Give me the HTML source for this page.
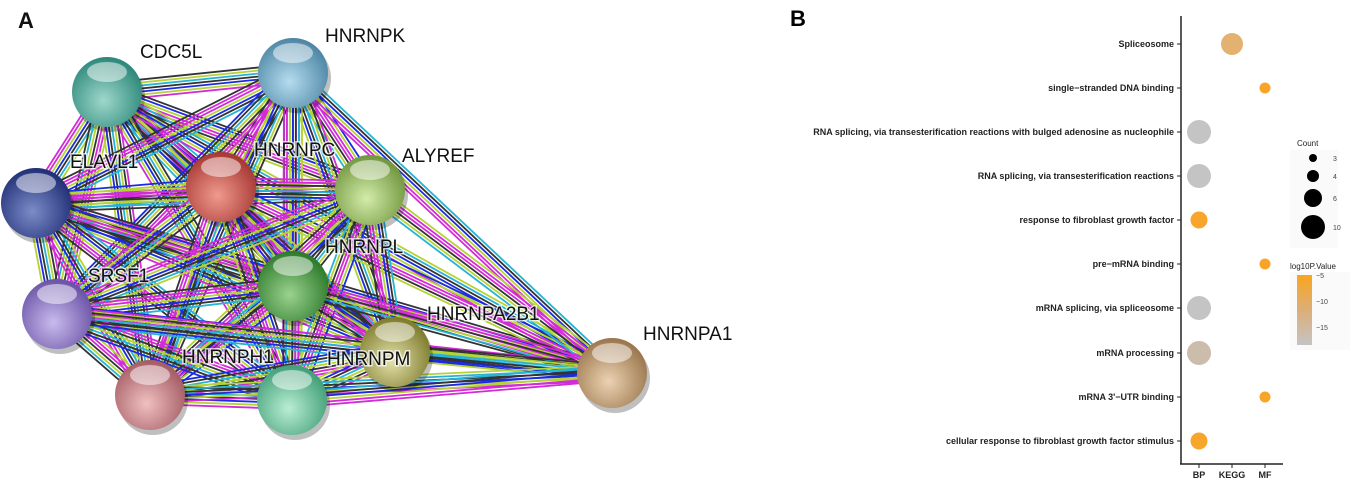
<!DOCTYPE html>
<html><head><meta charset="utf-8"><style>
body{margin:0;background:#fff;width:1357px;height:480px;overflow:hidden;font-family:"Liberation Sans",Arial,sans-serif}
svg{position:absolute;left:0;top:0}
.lb text{paint-order:stroke;stroke:#fff;stroke-width:3px;stroke-opacity:0.7}
</style></head><body>
<svg id="s" width="1357" height="480" viewBox="0 0 1357 480" xmlns="http://www.w3.org/2000/svg">
<defs>
<linearGradient id="cb" x1="0" y1="0" x2="0" y2="1"><stop offset="0" stop-color="#f9a51f"/><stop offset="0.5" stop-color="#dcae78"/><stop offset="1" stop-color="#c4c4c4"/></linearGradient>
</defs>
<g id="edges"></g>
<g id="nodes"></g>
<g font-size="19" fill="#111" class="lb">
<text x="18" y="28" font-size="22" font-weight="bold">A</text>
<text x="140" y="58">CDC5L</text>
<text x="325" y="42">HNRNPK</text>
<text x="70" y="168">ELAVL1</text>
<text x="254" y="156">HNRNPC</text>
<text x="402" y="162">ALYREF</text>
<text x="325" y="253">HNRNPL</text>
<text x="88" y="282">SRSF1</text>
<text x="427" y="320">HNRNPA2B1</text>
<text x="182" y="363">HNRNPH1</text>
<text x="327" y="365">HNRNPM</text>
<text x="643" y="340">HNRNPA1</text>
</g>
<!-- Panel B -->
<text x="790" y="26" font-size="22" font-weight="bold">B</text>
<line x1="1181" y1="16" x2="1181" y2="464" stroke="#222" stroke-width="1.5"/>
<line x1="1180" y1="464" x2="1283" y2="464" stroke="#222" stroke-width="1.5"/>
<g stroke="#222" stroke-width="1">
<line x1="1177" y1="44" x2="1181" y2="44"/><line x1="1177" y1="88" x2="1181" y2="88"/><line x1="1177" y1="132" x2="1181" y2="132"/><line x1="1177" y1="176" x2="1181" y2="176"/><line x1="1177" y1="220" x2="1181" y2="220"/><line x1="1177" y1="264" x2="1181" y2="264"/><line x1="1177" y1="308" x2="1181" y2="308"/><line x1="1177" y1="353" x2="1181" y2="353"/><line x1="1177" y1="397" x2="1181" y2="397"/><line x1="1177" y1="441" x2="1181" y2="441"/>
<line x1="1199" y1="464" x2="1199" y2="468"/><line x1="1232" y1="464" x2="1232" y2="468"/><line x1="1265" y1="464" x2="1265" y2="468"/>
</g>
<g font-size="9" font-weight="bold" fill="#222" text-anchor="end">
<text x="1174" y="47">Spliceosome</text>
<text x="1174" y="91">single−stranded DNA binding</text>
<text x="1174" y="135">RNA splicing, via transesterification reactions with bulged adenosine as nucleophile</text>
<text x="1174" y="179">RNA splicing, via transesterification reactions</text>
<text x="1174" y="223">response to fibroblast growth factor</text>
<text x="1174" y="267">pre−mRNA binding</text>
<text x="1174" y="311">mRNA splicing, via spliceosome</text>
<text x="1174" y="356">mRNA processing</text>
<text x="1174" y="400">mRNA 3'−UTR binding</text>
<text x="1174" y="444">cellular response to fibroblast growth factor stimulus</text>
</g>
<g font-size="9" font-weight="bold" fill="#222" text-anchor="middle">
<text x="1199" y="478">BP</text><text x="1232" y="478">KEGG</text><text x="1265" y="478">MF</text>
</g>
<circle cx="1232" cy="44" r="11" fill="#e3b271"/>
<circle cx="1265" cy="88" r="5.5" fill="#f8a428"/>
<circle cx="1199" cy="132" r="12" fill="#c4c4c4"/>
<circle cx="1199" cy="176" r="12" fill="#c4c4c4"/>
<circle cx="1199" cy="220" r="8.5" fill="#f8a52b"/>
<circle cx="1265" cy="264" r="5.5" fill="#f8a428"/>
<circle cx="1199" cy="308" r="12" fill="#c4c4c4"/>
<circle cx="1199" cy="353" r="12" fill="#ccbcab"/>
<circle cx="1265" cy="397" r="5.5" fill="#f8a428"/>
<circle cx="1199" cy="441" r="8.5" fill="#f8a52b"/>
<rect x="1290" y="150" width="48" height="98" fill="#fafafa"/>
<text x="1297" y="146" font-size="8" fill="#222">Count</text>
<circle cx="1313" cy="158" r="4" fill="#000"/><text x="1333" y="161" font-size="7" fill="#444">3</text>
<circle cx="1313" cy="176" r="6" fill="#000"/><text x="1333" y="179" font-size="7" fill="#444">4</text>
<circle cx="1313" cy="198" r="9" fill="#000"/><text x="1333" y="201" font-size="7" fill="#444">6</text>
<circle cx="1313" cy="227" r="12" fill="#000"/><text x="1333" y="230" font-size="7" fill="#444">10</text>
<rect x="1290" y="272" width="60" height="78" fill="#fafafa"/>
<text x="1290" y="269" font-size="8" fill="#222">log10P.Value</text>
<rect x="1297" y="275" width="15" height="70" fill="url(#cb)"/>
<text x="1316" y="278" font-size="7" fill="#444">−5</text>
<text x="1316" y="304" font-size="7" fill="#444">−10</text>
<text x="1316" y="330" font-size="7" fill="#444">−15</text>
</svg>
<script>
var N={CDC5L:[107,92,"#2f8a7c","#9ed8cb"],HNRNPK:[293,73,"#4f88a6","#b6dcef"],ELAVL1:[36,203,"#233178","#7c8cc8"],HNRNPC:[221,187,"#a83a35","#f09a8e"],ALYREF:[370,190,"#739840","#d3ecaa"],HNRNPL:[293,286,"#2f7c2e","#9bd28e"],SRSF1:[57,314,"#6c55a8","#c9bbed"],A2B1:[395,352,"#807d30","#e4e2aa"],H1:[150,395,"#a65e66","#f0c0c0"],M:[292,400,"#44a07a","#b9eed2"],A1:[612,373,"#9c784f","#ecd2b2"]};
var cols=["#d22bd8","#333333","#b5d334","#27b3d6","#333333","#1a2be0","#b5d334","#d22bd8"];
var keys=Object.keys(N),e="";
for(var i=0;i<keys.length;i++)for(var j=i+1;j<keys.length;j++){
 var a=N[keys[i]],b=N[keys[j]];var dx=b[0]-a[0],dy=b[1]-a[1],L=Math.hypot(dx,dy),px=-dy/L,py=dx/L;
 var n=(keys[i]=="A1"||keys[j]=="A1")?6:7;
 for(var k=0;k<n;k++){var o=(k-(n-1)/2)*3;
  e+='<line x1="'+(a[0]+px*o)+'" y1="'+(a[1]+py*o)+'" x2="'+(b[0]+px*o)+'" y2="'+(b[1]+py*o)+'" stroke="'+cols[(k+i+j)%cols.length]+'" stroke-width="1.8"/>';}
}
document.getElementById("edges").innerHTML=e;
var d="",g="";
keys.forEach(function(k,idx){var c=N[k];
 g+='<radialGradient id="g'+idx+'" cx="0.45" cy="0.62" r="0.6"><stop offset="0" stop-color="'+c[3]+'"/><stop offset="1" stop-color="'+c[2]+'"/></radialGradient>';
 d+='<circle cx="'+(c[0]+3)+'" cy="'+(c[1]+5)+'" r="35" fill="#000" opacity="0.25"/><circle cx="'+c[0]+'" cy="'+c[1]+'" r="35" fill="url(#g'+idx+')"/><ellipse cx="'+c[0]+'" cy="'+(c[1]-20)+'" rx="20" ry="10" fill="#fff" opacity="0.5"/>';
});
document.querySelector("defs").innerHTML+=g;
document.getElementById("nodes").innerHTML=d;
</script>
</body></html>
